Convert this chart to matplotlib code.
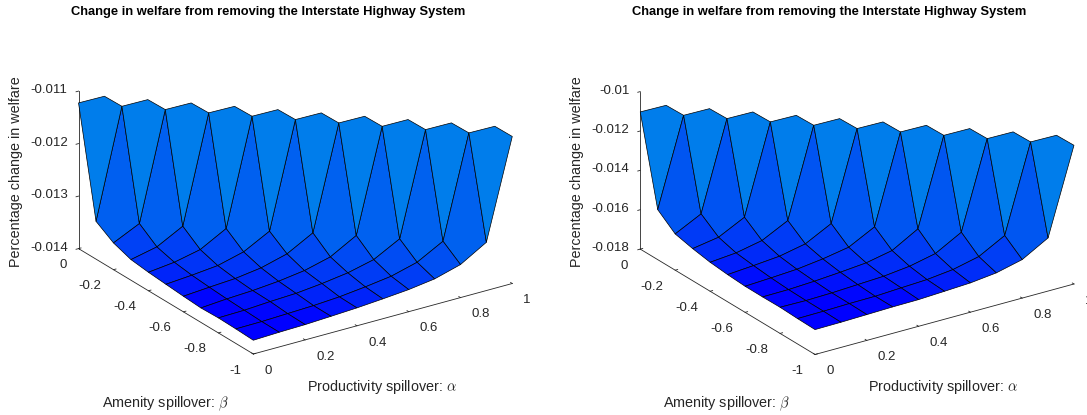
#!/usr/bin/env python3
import numpy as np
import matplotlib
matplotlib.use("Agg")
import matplotlib.pyplot as plt
from mpl_toolkits.mplot3d.art3d import Poly3DCollection

plt.rcParams['font.family'] = ['Liberation Sans', 'DejaVu Sans']
plt.rcParams['mathtext.fontset'] = 'cm'
plt.rcParams['axes.unicode_minus'] = False

W, H = 1087, 415

alpha = [0.0, 0.1, 0.2, 0.3, 0.4, 0.5, 0.6, 0.7, 0.8, 0.9, 1.0]
beta = [0.0, -0.1, -0.2, -0.3, -0.4, -0.5, -0.6, -0.7, -0.8, -0.9, -1.0]

alpha_ticks = [0, 0.2, 0.4, 0.6, 0.8, 1]
alpha_labels = ['0', '0.2', '0.4', '0.6', '0.8', '1']
beta_ticks = [-1, -0.8, -0.6, -0.4, -0.2, 0]
beta_labels = ['-1', '-0.8', '-0.6', '-0.4', '-0.2', '0']
ztick_left = [-0.014, -0.013, -0.012, -0.011]
zlabel_left = ['-0.014', '-0.013', '-0.012', '-0.011']
ztick_right = [-0.018, -0.016, -0.014, -0.012, -0.01]
zlabel_right = ['-0.018', '-0.016', '-0.014', '-0.012', '-0.01']

# welfare change x 1000, one list per band of the grid: band k holds the
# points with beta index - alpha index = k, starting from the lowest alpha
left_above = [-11.232, -11.230, -11.227, -11.225, -11.221, -11.217, -11.215, -11.211, -11.208, -11.206]
left_bands = [
    [-11.225, -11.223, -11.219, -11.215, -11.213, -11.210, -11.208, -11.206, -11.202, -11.198, -11.200],
    [-13.279, -13.257, -13.241, -13.219, -13.203, -13.168, -13.152, -13.149, -13.128, -13.081],
    [-13.490, -13.500, -13.485, -13.462, -13.434, -13.425, -13.410, -13.394, -13.371],
    [-13.607, -13.592, -13.589, -13.566, -13.551, -13.528, -13.526, -13.510],
    [-13.648, -13.638, -13.635, -13.620, -13.598, -13.594, -13.579],
    [-13.676, -13.666, -13.663, -13.650, -13.650, -13.622],
    [-13.703, -13.688, -13.672, -13.682, -13.659],
    [-13.725, -13.703, -13.700, -13.685],
    [-13.714, -13.718, -13.709],
    [-13.723, -13.720],
    [-13.738],
]
right_above = [-11.055, -11.047, -11.037, -11.032, -11.022, -11.012, -11.007, -10.996, -10.986, -10.981]
right_bands = [
    [-11.032, -11.027, -11.017, -11.007, -11.002, -10.991, -10.986, -10.981, -10.971, -10.961, -10.956],
    [-15.459, -15.501, -15.494, -15.486, -15.461, -15.451, -15.375, -15.371, -15.361, -15.301],
    [-16.159, -16.151, -16.143, -16.135, -16.127, -16.119, -16.094, -16.070, -16.045],
    [-16.369, -16.411, -16.404, -16.362, -16.386, -16.381, -16.372, -16.362],
    [-16.528, -16.520, -16.529, -16.504, -16.531, -16.522, -16.512],
    [-16.619, -16.610, -16.603, -16.595, -16.585, -16.580],
    [-16.676, -16.668, -16.660, -16.654, -16.644],
    [-16.682, -16.691, -16.666, -16.657],
    [-16.672, -16.698, -16.690],
    [-16.712, -16.721],
    [-16.735],
]

# colour ramp, green channel against welfare x 1000
left_ramp_z = [-13.71, -13.68, -13.65, -13.61, -13.49, -13.28, -11.20]
left_ramp_g = [0, 22, 35, 50, 65, 95, 125]
right_ramp_z = [-16.69, -16.65, -16.60, -16.52, -16.38, -16.13, -15.45, -11.00]
right_ramp_g = [0, 8, 18, 30, 45, 60, 85, 125]

BOX = (312.0, 313.4, 172.3)
SIDE = 460.7


def make_grid(above, bands):
    z = np.full((11, 11), np.nan)
    for i, v in enumerate(above):
        z[i, i + 1] = v
    for k, band in enumerate(bands):
        for i, v in enumerate(band):
            z[i + k, i] = v
    return z


def draw(corner, z, ramp_z, ramp_g, zticks, zlabels, zlim):
    left = corner[0] - 0.5135 * SIDE
    bottom = (H - corner[1]) - 0.5135 * SIDE
    ax = plt.gcf().add_axes([left / W, bottom / H, SIDE / W, SIDE / H], projection='3d', proj_type='ortho')
    ax.set_box_aspect(BOX)
    ax.view_init(elev=23.9, azim=-123.9)
    ax.patch.set_alpha(0)

    polys, colors = [], []
    for j in range(10):
        for i in range(10):
            corners = [(i, j), (i + 1, j), (i + 1, j + 1), (i, j + 1)]
            vals = [z[b, a] for a, b in corners]
            if np.isnan(vals).any():
                continue
            polys.append([(alpha[a], beta[b], z[b, a] * 1e-3) for a, b in corners])
            g = np.interp(z[j, i], ramp_z, ramp_g)
            colors.append((0, g / 255, (255 - g * 0.16) / 255))
    ax.add_collection3d(Poly3DCollection(polys, facecolors=colors, edgecolors='k', linewidths=0.5))

    ax.set_xlim(0, 1)
    ax.set_ylim(-1, 0)
    ax.set_zlim(*zlim)
    ax.set_xticks(alpha_ticks, alpha_labels)
    ax.set_yticks(beta_ticks, beta_labels)
    ax.set_zticks(zticks, zlabels)
    ax.grid(False)
    for axis in (ax.xaxis, ax.yaxis, ax.zaxis):
        axis.set_pane_color((1, 1, 1, 0))
        axis.pane.set_edgecolor((1, 1, 1, 0))
        axis.line.set_color('#262626')
        axis.line.set_linewidth(0.6)
        axis._axinfo['tick']['inward_factor'] = 0.0
        axis._axinfo['tick']['outward_factor'] = 0.12
        axis._axinfo['tick']['linewidth'] = {True: 0.6, False: 0.5}
        axis._axinfo['tick']['color'] = '#262626'
    ax.zaxis._axinfo['tick']['inward_factor'] = 0.12
    ax.zaxis._axinfo['tick']['outward_factor'] = 0.0
    ax.tick_params(labelsize=9.5, labelcolor='#262626', color='#262626')
    ax.tick_params(axis='x', pad=3)
    ax.tick_params(axis='y', pad=0)
    ax.tick_params(axis='z', pad=-3.7)
    plt.setp(ax.get_xticklabels(), ha='left', va='center')
    plt.setp(ax.get_yticklabels(), ha='right', va='top')
    plt.setp(ax.get_zticklabels(), ha='right', va='center')
    return ax


fig = plt.figure(figsize=(W / 100, H / 100), dpi=100)

left_z = make_grid(left_above, left_bands)
right_z = make_grid(right_above, right_bands)
draw((295.4, 187.3), left_z, left_ramp_z, left_ramp_g, ztick_left, zlabel_left, (-0.014, -0.011))
draw((857.1, 187.8), right_z, right_ramp_z, right_ramp_g, ztick_right, zlabel_right, (-0.018, -0.01))

for dx, cx in ((0, 268), (561, 829)):
    fig.text(cx / W, 1 - 12 / H, 'Change in welfare from removing the Interstate Highway System',
             ha='center', va='center', fontsize=9.25, fontweight='bold', color='k')
    fig.text((16 + dx) / W, 1 - 172 / H, 'Percentage change in welfare', rotation=90,
             ha='center', va='center', fontsize=10.4, color='#262626')
    fig.text((307 + dx) / W, 1 - 387 / H, r'Productivity spillover: $\alpha$',
             ha='left', va='center', fontsize=10.4, color='#262626')
    fig.text((102 + dx) / W, 1 - 404 / H, r'Amenity spillover: $\beta$',
             ha='left', va='center', fontsize=10.4, color='#262626')

fig.savefig('out.png', dpi=100)
